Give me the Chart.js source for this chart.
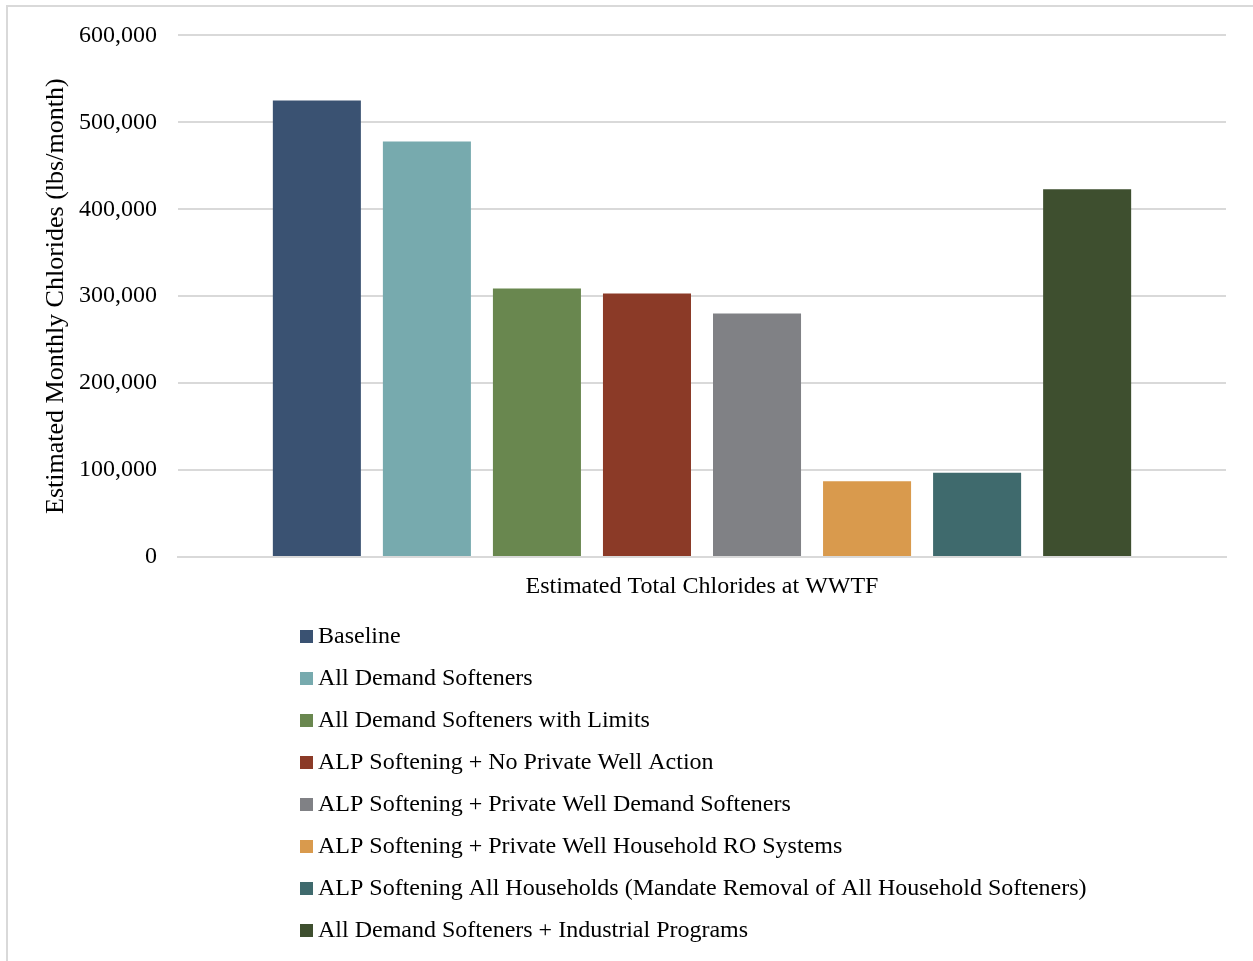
<!DOCTYPE html>
<html>
<head>
<meta charset="utf-8">
<title>Estimated Total Chlorides at WWTF</title>
<script src="https://cdn.jsdelivr.net/npm/chart.js@4.4.1/dist/chart.umd.min.js"></script>
<style>
  html, body { margin: 0; padding: 0; background: #fff; overflow: hidden; }
  canvas { display: block; }
</style>
</head>
<body>
<canvas id="chlorides" width="1253" height="961"></canvas>
<script>
const categories = ['Estimated Total Chlorides at WWTF'];
const scenarios = [
  'Baseline',
  'All Demand Softeners',
  'All Demand Softeners with Limits',
  'ALP Softening + No Private Well Action',
  'ALP Softening + Private Well Demand Softeners',
  'ALP Softening + Private Well Household RO Systems',
  'ALP Softening All Households (Mandate Removal of All Household Softeners)',
  'All Demand Softeners + Industrial Programs'
];
const chlorides = [525000, 478000, 309000, 303000, 280000, 87000, 97000, 423000];
const colors = ['#3a5272', '#77aaae', '#69874f', '#8b3a27', '#808185', '#d99a4d', '#3f6a6d', '#3e4f2f'];
const yTicks = [0, 100000, 200000, 300000, 400000, 500000, 600000];

const serif = "'Liberation Serif', 'Times New Roman', serif";
const gridGray = '#d9d9d9';

// light frame around the whole chart (top and left edges visible)
const framePlugin = {
  id: 'frame',
  beforeDraw(chart) {
    const ctx = chart.ctx;
    ctx.save();
    ctx.strokeStyle = gridGray;
    ctx.lineWidth = 2;
    ctx.beginPath();
    ctx.moveTo(7, chart.height);
    ctx.lineTo(7, 6);
    ctx.lineTo(chart.width, 6);
    ctx.stroke();
    ctx.restore();
  }
};

// one legend entry per row under the axis
const listLegend = {
  id: 'listLegend',
  afterDraw(chart) {
    const ctx = chart.ctx;
    const x = 300;
    let y = chart.chartArea.bottom + 79;
    ctx.save();
    ctx.font = '24px ' + serif;
    ctx.textBaseline = 'middle';
    ctx.textAlign = 'left';
    chart.data.datasets.forEach(ds => {
      ctx.fillStyle = ds.backgroundColor;
      ctx.fillRect(x, y - 6, 13, 13);
      ctx.fillStyle = '#000';
      ctx.fillText(ds.label, x + 18, y + 1);
      y += 42;
    });
    ctx.restore();
  }
};

const datasets = scenarios.map((name, i) => ({
  label: name,
  data: [chlorides[i]],
  backgroundColor: colors[i],
  borderWidth: 0,
  categoryPercentage: 0.84,
  barPercentage: 0.8
}));

new Chart(document.getElementById('chlorides'), {
  type: 'bar',
  data: { labels: categories, datasets: datasets },
  options: {
    responsive: false,
    devicePixelRatio: 1,
    animation: false,
    layout: { padding: { left: 30, right: 27, top: 35, bottom: 354 } },
    plugins: {
      legend: { display: false },
      tooltip: { enabled: false }
    },
    scales: {
      x: {
        grid: { display: false, drawTicks: false },
        border: { color: gridGray, width: 2 },
        ticks: { color: '#000', font: { family: serif, size: 24 }, padding: 15 },
        afterFit(scale) { scale.height = 50; }
      },
      y: {
        min: 0,
        max: 600000,
        afterBuildTicks(scale) { scale.ticks = yTicks.map(v => ({ value: v })); },
        grid: { color: gridGray, lineWidth: 2, drawTicks: false },
        border: { display: false },
        ticks: {
          color: '#000',
          font: { family: serif, size: 24 },
          padding: 21,
          callback: v => v.toLocaleString('en-US')
        },
        title: {
          display: true,
          text: 'Estimated Monthly Chlorides (lbs/month)',
          color: '#000',
          font: { family: serif, size: 26 },
          padding: { top: 11, bottom: 0 }
        },
        afterFit(scale) { scale.width = 148; }
      }
    }
  },
  plugins: [framePlugin, listLegend]
});
</script>
</body>
</html>
